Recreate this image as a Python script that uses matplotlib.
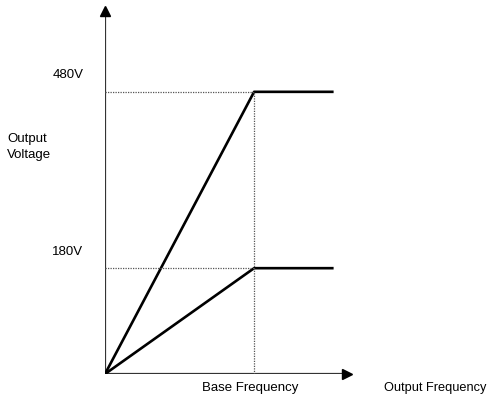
import matplotlib.pyplot as plt

plt.rcParams['font.family'] = ['Liberation Sans', 'DejaVu Sans']

# V/f curves: voltage rises linearly up to base frequency, then stays flat
base_freq = 60.0
max_freq = 92.0
voltages = [480, 180]
voltage_labels = ['480V', '180V']

fig = plt.figure(figsize=(4.9, 3.96), dpi=100)
ax = fig.add_axes([105 / 490, 22 / 396, 245 / 490, 368 / 396])
ax.set_xlim(0, 98.6)
ax.set_ylim(0, 626)
ax.axis('off')

axis_col = '#333333'
# axes with arrow heads
ax.plot([0, 97.5], [0, 0], color=axis_col, lw=1.6, solid_capstyle='butt')
ax.plot([0, 0], [0, 618], color=axis_col, lw=1.6, solid_capstyle='butt')
ax.plot(97.5, 0, marker='>', color='black', ms=7, clip_on=False)
ax.plot(0, 618, marker='^', color='black', ms=7, clip_on=False)

for v, lab in zip(voltages, voltage_labels):
    ax.plot([0, base_freq, max_freq], [0, v, v], color='black', lw=1.9,
            solid_capstyle='butt')
    ax.plot([0, base_freq], [v, v], color='#555555', lw=0.9,
            linestyle=(0, (1, 1)))
    ax.annotate(lab, xy=(0, v), xytext=(-15.5, 12), textcoords='offset points',
                ha='right', va='center', fontsize=9.5)

ax.plot([base_freq, base_freq], [0, max(voltages)], color='#555555', lw=0.9,
        linestyle=(0, (1, 1)))

ax.annotate('Base Frequency', xy=(base_freq, 0), xytext=(-3, -10),
            textcoords='offset points', ha='center', va='center', fontsize=9.5)
ax.annotate('Output Frequency', xy=(1, 0), xycoords='axes fraction',
            xytext=(136 / 1.389, -10), textcoords='offset points', ha='right',
            va='center', fontsize=9.2)
fig.text(7 / 490, 1 - 147 / 396, 'Output\nVoltage', ha='left', va='center',
         fontsize=9.5, linespacing=1.45)

fig.savefig('out.png', dpi=100)
